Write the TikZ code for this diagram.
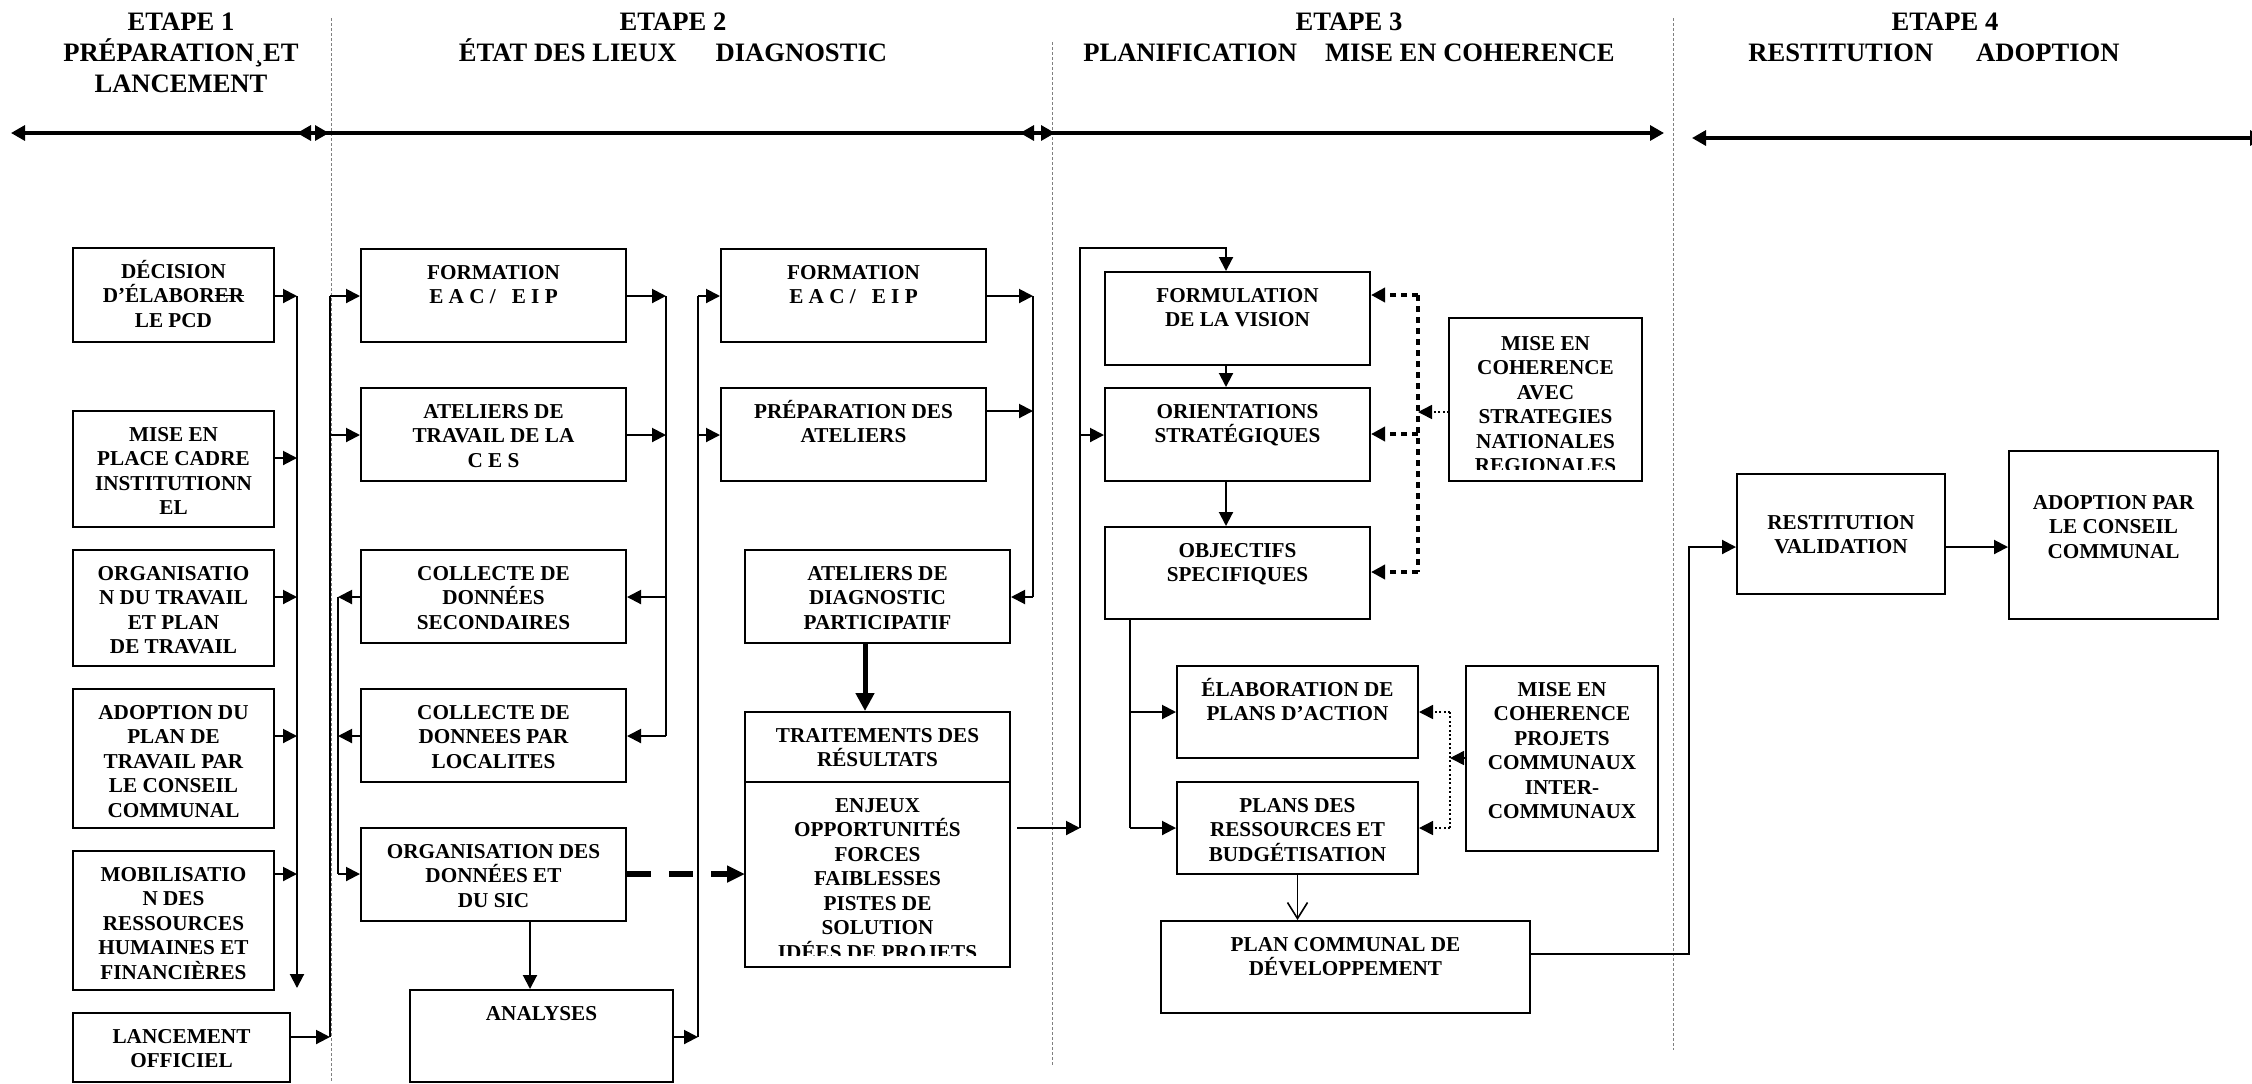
\documentclass[tikz,border=0pt]{standalone}
\usepackage{fontspec}
\setmainfont{Liberation Serif}
\usetikzlibrary{arrows.meta}
\newcommand{\bxf}{\fontsize{10.6}{12.25}\selectfont\bfseries}
\newcommand{\hdf}{\fontsize{13.3}{15.5}\selectfont\bfseries}
\newcommand{\tb}[4][0]{\parbox[c][\dimexpr #3pt/2\relax][t]{\dimexpr #2pt/2\relax}{\centering\vspace*{\dimexpr 4.57pt+#1pt\relax}\rule{0pt}{10.5pt}#4}}
\newcommand{\strk}[1]{\setbox0\hbox{#1}\rlap{\rule[3.3pt]{\wd0}{0.75pt}}\box0}
\newcommand{\hdbox}[1]{\parbox[t]{300pt}{\centering\rule{0pt}{12pt}#1}}
\tikzset{
  bx/.style={draw, line width=1pt, inner sep=0pt, font=\bxf},
  bxclip/.style={draw=none, inner sep=0pt, outer sep=0pt, font=\bxf},
  ln/.style={line width=1pt},
  arr/.style={line width=1pt, -{Triangle[length=7pt,width=7pt]}},
  tarr/.style={line width=2.5pt, -{Triangle[length=9pt,width=9pt]}},
  darr/.style={line width=3pt, dash pattern=on 12pt off 9pt, -{Triangle[length=9pt,width=8pt]}},
  tdot/.style={line width=2pt, dash pattern=on 3pt off 2.5pt},
  tdotarr/.style={tdot, -{Triangle[length=7pt,width=7pt]}},
  ndot/.style={line width=0.8pt, dash pattern=on 1pt off 1.2pt},
  ndotarr/.style={ndot, -{Triangle[length=7pt,width=7pt]}},
  oarr/.style={line width=0.8pt, -{Straight Barb[length=8pt,width=10pt]}},
  tl/.style={line width=1.6pt, {Triangle[length=7pt,width=7.5pt]}-{Triangle[length=7pt,width=7.5pt]}},
  dv/.style={gray, line width=0.5pt, dash pattern=on 1.5pt off 1pt},
  hd/.style={inner sep=0pt, font=\hdf, anchor=north},
}
\begin{document}
\begin{tikzpicture}[x=0.5pt,y=-0.5pt]
\useasboundingbox (0,0) rectangle (2252,1083);
\clip (0,0) rectangle (2252,1083);

% ---- dividers
\coordinate (d1a) at (331,18);   \coordinate (d1b) at (331,1083);
\coordinate (d2a) at (1052,42);  \coordinate (d2b) at (1052,1066);
\coordinate (d3a) at (1673,18);  \coordinate (d3b) at (1673,1050);
\draw[dv] (d1a) -- (d1b);
\draw[dv] (d2a) -- (d2b);
\draw[dv] (d3a) -- (d3b);

% ---- timeline
\coordinate (t1a) at (11,133);   \coordinate (t1b) at (329,133);
\coordinate (t2a) at (297,133);  \coordinate (t2b) at (1055,133);
\coordinate (t3a) at (1020,133); \coordinate (t3b) at (1664,133);
\coordinate (t4a) at (1692,138); \coordinate (t4b) at (2264,138);
\draw[tl] (t1a) -- (t1b);
\draw[tl] (t2a) -- (t2b);
\draw[tl] (t3a) -- (t3b);
\draw[tl] (t4a) -- (t4b);

% ---- headers
\node[hd] (h1) at (181,5.75) {\hdbox{ETAPE 1\\PRÉPARATION¸ET\\LANCEMENT}};
\node[hd] (h2) at (673,5.75) {\hdbox{ETAPE 2\\ÉTAT DES LIEUX\hspace{19.5pt}DIAGNOSTIC}};
\node[hd] (h3) at (1349,5.75) {\hdbox{ETAPE 3\\PLANIFICATION\hspace{14pt}MISE EN COHERENCE}};
\node[hd] (h4) at (1934,5.75) {\hdbox{\hspace*{11pt}ETAPE 4\\RESTITUTION\hspace{21.5pt}ADOPTION}};

% ---- column 1
\node[bx] (dec)  at (173.5,295)   {\tb{201}{94}{DÉCISION\\D’ÉLABOR\strk{ER}\\LE PCD}};
\node[bx] (mise) at (173.5,469)   {\tb{201}{116}{MISE EN\\PLACE CADRE\\INSTITUTIONN\\EL}};
\node[bx] (orgt) at (173.5,608)   {\tb{201}{116}{ORGANISATIO\\N DU TRAVAIL\\ET PLAN\\DE TRAVAIL}};
\node[bx] (adop) at (173.5,758.5) {\tb{201}{139}{ADOPTION DU\\PLAN DE\\TRAVAIL PAR\\LE CONSEIL\\COMMUNAL}};
\node[bx] (mob)  at (173.5,920.5) {\tb{201}{139}{MOBILISATIO\\N DES\\RESSOURCES\\HUMAINES ET\\FINANCIÈRES}};
\node[bx] (lanc) at (181.5,1047.5){\tb{217}{69}{LANCEMENT\\OFFICIEL}};

% ---- column 2
\node[bx] (form1) at (493.5,295.5) {\tb{265}{93}{FORMATION\\E A C /\hspace{8pt}E I P}};
\node[bx] (atel1) at (493.5,434.5) {\tb{265}{93}{ATELIERS DE\\TRAVAIL DE LA\\C E S}};
\node[bx] (coll1) at (493.5,596.5) {\tb{265}{93}{COLLECTE DE\\DONNÉES\\SECONDAIRES}};
\node[bx] (coll2) at (493.5,735.5) {\tb{265}{93}{COLLECTE DE\\DONNEES PAR\\LOCALITES}};
\node[bx] (orgd)  at (493.5,874.5) {\tb{265}{93}{ORGANISATION DES\\DONNÉES ET\\DU SIC}};
\node[bx] (anal)  at (541.5,1036)  {\tb{263}{92}{ANALYSES}};

% ---- column 3
\node[bx] (form2) at (853.5,295.5) {\tb{265}{93}{FORMATION\\E A C /\hspace{8pt}E I P}};
\node[bx] (prep)  at (853.5,434.5) {\tb{265}{93}{PRÉPARATION DES\\ATELIERS}};
\node[bx] (diag)  at (877.5,596.5) {\tb{265}{93}{ATELIERS DE\\DIAGNOSTIC\\PARTICIPATIF}};
\node[bx] (traitA) at (877.5,747)  {\tb{265}{70}{TRAITEMENTS DES\\RÉSULTATS}};
\begin{scope}
\clip (745,782) rectangle (1010,955);
\node[bxclip] (traitB) at (877.5,874.5) {\tb{265}{185}{ENJEUX\\OPPORTUNITÉS\\FORCES\\FAIBLESSES\\PISTES DE\\SOLUTION\\IDÉES DE PROJETS}};
\end{scope}
\draw[ln] (traitB.north west) rectangle (traitB.south east);

% ---- column 4
\node[bx] (form3) at (1237.5,318.5) {\tb{265}{93}{FORMULATION\\DE LA VISION}};
\node[bx] (ori)   at (1237.5,434.5) {\tb{265}{93}{ORIENTATIONS\\STRATÉGIQUES}};
\node[bx] (obj)   at (1237.5,573)   {\tb{265}{92}{OBJECTIFS\\SPECIFIQUES}};
\begin{scope}
\clip (1449,318) rectangle (1642,469);
\node[bxclip] (miseA) at (1545.5,399.5) {\tb[1]{193}{163}{MISE EN\\COHERENCE\\AVEC\\STRATEGIES\\NATIONALES\\REGIONALES}};
\end{scope}
\draw[ln] (miseA.north west) rectangle (miseA.south east);
\node[bx] (elab)  at (1297.5,712) {\tb{241}{92}{ÉLABORATION DE\\PLANS D’ACTION}};
\node[bx] (plans) at (1297.5,828) {\tb{241}{92}{PLANS DES\\RESSOURCES ET\\BUDGÉTISATION}};
\node[bx] (miseB) at (1562,758.5) {\tb{192}{185}{MISE EN\\COHERENCE\\PROJETS\\COMMUNAUX\\INTER-\\COMMUNAUX}};
\node[bx] (pcd)   at (1345.5,967) {\tb{369}{92}{PLAN COMMUNAL DE\\DÉVELOPPEMENT}};

% ---- column 5
\node[bx] (rest)  at (1841,534)   {\tb[12.5]{208}{120}{RESTITUTION\\VALIDATION}};
\node[bx] (adopt) at (2113.5,535) {\tb[14]{209}{168}{ADOPTION PAR\\LE CONSEIL\\COMMUNAL}};

% ---- bus 1
\coordinate (j11) at (297,296); \coordinate (j12) at (297,458);
\coordinate (j13) at (297,597); \coordinate (j14) at (297,736);
\coordinate (j15) at (297,874); \coordinate (j1e) at (297,988);
\draw[arr] (j11) -- (j1e);
\draw[arr] (dec.east |- j11) -- (j11);
\draw[arr] (mise.east |- j12) -- (j12);
\draw[arr] (orgt.east |- j13) -- (j13);
\draw[arr] (adop.east |- j14) -- (j14);
\draw[arr] (mob.east |- j15) -- (j15);

% ---- bus 2
\coordinate (j21) at (330,296); \coordinate (j22) at (330,435); \coordinate (j2e) at (330,1037);
\draw[ln] (j21) -- (j2e);
\draw[arr] (lanc.east |- j2e) -- (j2e);
\draw[arr] (j21) -- (form1.west |- j21);
\draw[arr] (j22) -- (atel1.west |- j22);

% ---- bus 2b
\coordinate (j31) at (338,597); \coordinate (j32) at (338,736); \coordinate (j33) at (338,874);
\draw[ln] (j31) -- (j33);
\draw[arr] (coll1.west |- j31) -- (j31);
\draw[arr] (coll2.west |- j32) -- (j32);
\draw[arr] (j33) -- (orgd.west |- j33);

% ---- analyses
\draw[arr] ([xshift=18.25pt]orgd.south) -- ([xshift=18.25pt]orgd.south |- anal.north);

% ---- bus 3
\coordinate (j41) at (666,296); \coordinate (j42) at (666,435);
\coordinate (j43) at (666,597); \coordinate (j44) at (666,736);
\draw[ln] (j41) -- (j44);
\draw[arr] (form1.east |- j41) -- (j41);
\draw[arr] (atel1.east |- j42) -- (j42);
\draw[arr] (j43) -- (coll1.east |- j43);
\draw[arr] (j44) -- (coll2.east |- j44);

% ---- bus 4
\coordinate (j51) at (698,296); \coordinate (j52) at (698,435); \coordinate (j53) at (698,1037);
\draw[ln] (j51) -- (j53);
\draw[arr] (anal.east |- j53) -- (j53);
\draw[arr] (j51) -- (form2.west |- j51);
\draw[arr] (j52) -- (prep.west |- j52);

% ---- bus 5
\coordinate (j61) at (1033,296); \coordinate (j62) at (1033,411); \coordinate (j63) at (1033,597);
\draw[ln] (j61) -- (j63);
\draw[arr] (form2.east |- j61) -- (j61);
\draw[arr] (prep.east |- j62) -- (j62);
\draw[arr] (j63) -- (diag.east |- j63);

% ---- diagnostic to traitements
\draw[tarr] ([xshift=-6.25pt]diag.south) -- ([xshift=-6.25pt]diag.south |- traitA.north);
\draw[darr] (orgd.east |- j33) -- (traitB.west |- j33);

% ---- bus 6
\coordinate (j71) at (1080,828); \coordinate (j72) at (1080,435);
\coordinate (j7t) at (1080,248); \coordinate (j7r) at (1226,248);
\draw[arr, shorten <=3.5pt] (traitB.east |- j71) -- (j71);
\draw[arr] (j71) -- (j7t) -- (j7r) -- (j7r |- form3.north);
\draw[arr] (j72) -- (ori.west |- j72);
\draw[arr] (form3.south -| j7r) -- (ori.north -| j7r);
\draw[arr] (ori.south -| j7r) -- (obj.north -| j7r);

% ---- bracket 1
\coordinate (k1) at (1418,295); \coordinate (k2) at (1418,434);
\coordinate (k3) at (1418,572); \coordinate (k4) at (1418,412);
\draw[tdot] (k1) -- (k3);
\draw[tdotarr] (k1) -- (form3.east |- k1);
\draw[tdotarr] (k2) -- (ori.east |- k2);
\draw[tdotarr] (k3) -- (obj.east |- k3);
\draw[ndotarr] (miseA.west |- k4) -- (k4);

% ---- bus 7
\coordinate (m1) at (1130,712); \coordinate (m2) at (1130,828);
\draw[ln] (obj.south -| m1) -- (m2);
\draw[arr] (m1) -- (elab.west |- m1);
\draw[arr] (m2) -- (plans.west |- m2);

% ---- bracket 2
\coordinate (n1) at (1450,712); \coordinate (n2) at (1450,828); \coordinate (n3) at (1450,758);
\draw[ndot] (n1) -- (n2);
\draw[ndotarr] (n1) -- (elab.east |- n1);
\draw[ndotarr] (n2) -- (plans.east |- n2);
\draw[ndotarr] (miseB.west |- n3) -- (n3);

% ---- to PCD and etape 4
\draw[oarr] (plans.south) -- (plans.south |- pcd.north);
\coordinate (p1) at (1689,954); \coordinate (p2) at (1689,547);
\draw[arr] (pcd.east |- p1) -- (p1) -- (p2) -- (rest.west |- p2);
\draw[arr] (rest.east |- p2) -- (adopt.west |- p2);
\end{tikzpicture}
\end{document}
